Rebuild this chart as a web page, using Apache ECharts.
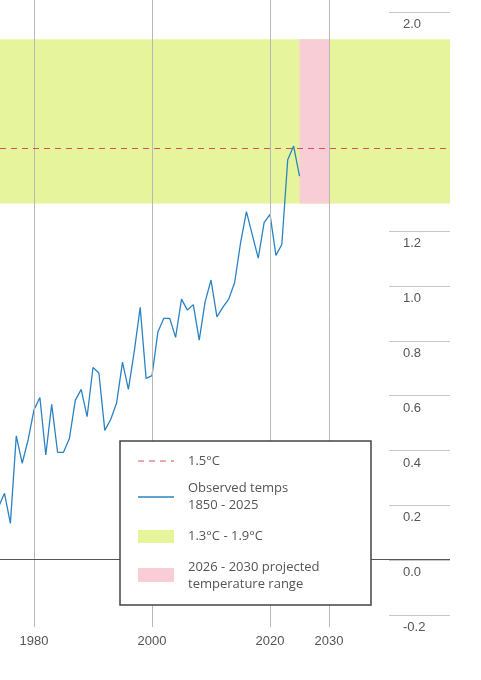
<!DOCTYPE html>
<html><head><meta charset="utf-8">
<script src="https://cdn.jsdelivr.net/npm/echarts@6/dist/echarts.min.js"></script>
<style>html,body{margin:0;padding:0;background:#fff}#c{width:481px;height:680px}</style>
</head><body><div id="c"></div>
<script>
const years = [1974,1975,1976,1977,1978,1979,1980,1981,1982,1983,1984,1985,1986,1987,1988,1989,1990,1991,1992,1993,1994,1995,1996,1997,1998,1999,2000,2001,2002,2003,2004,2005,2006,2007,2008,2009,2010,2011,2012,2013,2014,2015,2016,2017,2018,2019,2020,2021,2022,2023,2024,2025];
const temps = [0.19,0.24,0.13,0.45,0.35,0.435,0.545,0.59,0.38,0.565,0.39,0.39,0.44,0.58,0.62,0.52,0.70,0.68,0.47,0.51,0.57,0.72,0.62,0.76,0.92,0.66,0.67,0.83,0.88,0.88,0.81,0.95,0.91,0.93,0.80,0.94,1.02,0.885,0.92,0.95,1.01,1.155,1.27,1.185,1.10,1.23,1.26,1.11,1.15,1.46,1.51,1.40];
const xTickLabels = [1980,2000,2020,2030];
const threshold = 1.5;
const bandRange = [1.3,1.9];
const projYears = [2025,2030];
const yTicks = {min:-0.2,max:2.0,step:0.2};

const txt = {fill:'#555',fontSize:13,fontFamily:'"Open Sans", sans-serif'};
const chart = echarts.init(document.getElementById('c'));
chart.setOption({
  animation:false,
  grid:[
    {left:0,right:31,top:0,bottom:53},
    {left:389,right:31,top:12,bottom:65}
  ],
  xAxis:[
    {type:'value',gridIndex:0,min:1974.24,max:2050.5,
     axisLine:{show:false},axisTick:{show:false},splitLine:{show:false},
     axisLabel:{customValues:xTickLabels,color:'#555',fontSize:13,margin:8,formatter:v=>String(v)}},
    {type:'value',gridIndex:1,show:false,min:0,max:1}
  ],
  yAxis:[
    {type:'value',gridIndex:0,min:-0.2489,max:2.0439,show:false,splitLine:{show:false}},
    {type:'value',gridIndex:1,min:yTicks.min,max:yTicks.max,interval:yTicks.step,
     axisLine:{show:false},axisTick:{show:false},
     splitLine:{lineStyle:{color:'#c8c8c8',width:1}},
     axisLabel:{inside:true,margin:14,verticalAlign:'top',padding:[6,0,0,0],color:'#555',fontSize:13,
       formatter:v=>v.toFixed(1)}}
  ],
  series:[
    {type:'line',xAxisIndex:0,yAxisIndex:0,data:[],z:1,
     markArea:{silent:true,data:[
       [{yAxis:bandRange[0],itemStyle:{color:'#e6f59c'}},{yAxis:bandRange[1]}],
       [{xAxis:projYears[0],yAxis:bandRange[0],itemStyle:{color:'#f9cdd6'}},{xAxis:projYears[1],yAxis:bandRange[1]}]
     ]}},
    {type:'line',xAxisIndex:0,yAxisIndex:0,data:[],z:2,
     markLine:{silent:true,symbol:'none',label:{show:false},
       data:xTickLabels.map(v=>({xAxis:v,lineStyle:{color:'#b8b8b8',width:1,type:'solid'}}))
        .concat([{yAxis:0,lineStyle:{color:'#555',width:1.2,type:'solid'}},
                 {yAxis:threshold,lineStyle:{color:'#d8505c',width:1.2,type:[6,5]}}])}},
    {type:'line',xAxisIndex:0,yAxisIndex:0,z:3,symbol:'none',
     data:years.map((y,i)=>[y,temps[i]]),
     lineStyle:{color:'#2b83c3',width:1.3}}
  ],
  graphic:[
    {type:'rect',z:10,shape:{x:120,y:441,width:251,height:164},style:{fill:'#fff',stroke:'#444',lineWidth:1.5}},
    {type:'line',z:11,shape:{x1:138,y1:461,x2:174,y2:461},style:{stroke:'#d8505c',lineWidth:1.2,lineDash:[6,5]}},
    {type:'text',z:11,x:188,y:461,style:Object.assign({text:'1.5°C',verticalAlign:'middle'},txt)},
    {type:'line',z:11,shape:{x1:138,y1:497,x2:174,y2:497},style:{stroke:'#2b83c3',lineWidth:1.3}},
    {type:'text',z:11,x:188,y:497,style:Object.assign({text:'Observed temps\n1850 - 2025',verticalAlign:'middle',lineHeight:17},txt)},
    {type:'rect',z:11,shape:{x:138,y:530,width:36,height:13},style:{fill:'#e6f59c'}},
    {type:'text',z:11,x:188,y:536,style:Object.assign({text:'1.3°C - 1.9°C',verticalAlign:'middle'},txt)},
    {type:'rect',z:11,shape:{x:138,y:568,width:36,height:14},style:{fill:'#f9cdd6'}},
    {type:'text',z:11,x:188,y:576,style:Object.assign({text:'2026 - 2030 projected\ntemperature range',verticalAlign:'middle',lineHeight:17},txt)}
  ]
});
</script></body></html>
